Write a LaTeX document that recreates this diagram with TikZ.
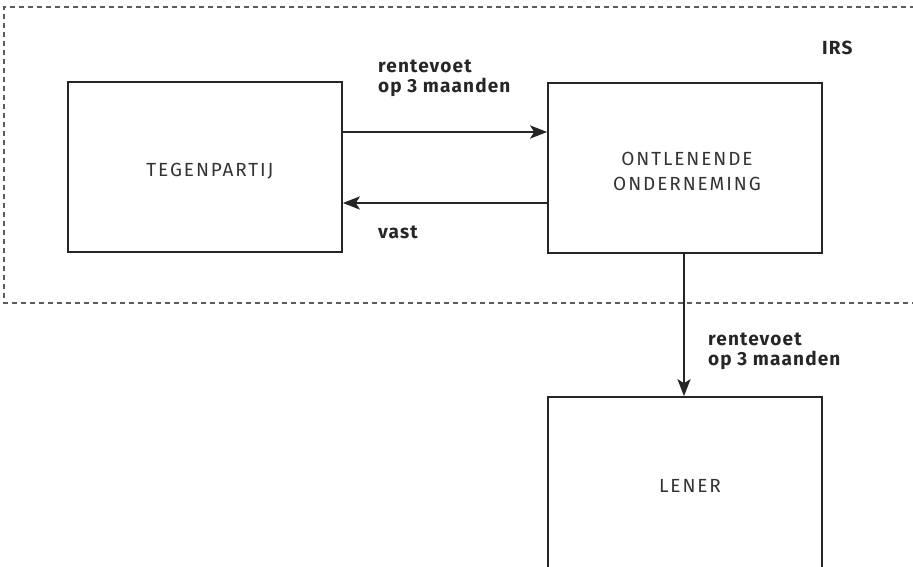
\documentclass[tikz,border=0pt]{standalone}
\usepackage{fontspec}
\setmainfont{Fira Sans}
\newfontfamily\lblfont[LetterSpace=10]{Fira Sans}
\newfontfamily\boldlbl[LetterSpace=6]{Fira Sans}[BoldFont={Fira Sans Bold}]
\usetikzlibrary{arrows.meta}
\definecolor{ink}{HTML}{262626}
\definecolor{boxtext}{HTML}{333333}
\begin{document}
\begin{tikzpicture}[x=1pt,y=-1pt,
  party/.style={draw=ink,line width=1.6pt,minimum width=274pt,minimum height=170pt,inner sep=0pt},
  partytext/.style={font=\lblfont\fontsize{19}{25}\selectfont,text=boxtext,align=center,inner sep=0pt},
  flow/.style={draw=ink,line width=2.6pt,-{Stealth[length=17pt,width=13pt,inset=4pt]}},
  flowlbl/.style={font=\boldlbl\bfseries\fontsize{19}{20}\selectfont,text=ink,align=left,inner sep=0pt},
  region/.style={draw=ink!75,line width=1.2pt,dash pattern=on 5pt off 4pt}]
\useasboundingbox (0,0) rectangle (913,567);
\draw[region] (960,7) -- (4,7) -- (4,303) -- (960,303);
\node[party] (teg) at (205,167) {};
\node[partytext,anchor=base] (tegtxt) at (210,176.5) {TEGENPARTIJ};
\node[party] (ont) at (685,168) {};
\node[partytext,anchor=base] (onttxt) at (687,190) {ONTLENENDE\\ONDERNEMING};
\node[party,minimum height=190pt] (len) at (685,492) {};
\node[partytext,anchor=base] (lentxt) at (690,492.5) {LENER};
\node[flowlbl,anchor=base west] (irs) at (822,55) {IRS};
\node[flowlbl,anchor=base west] (l1) at (378,93) {rentevoet\\op 3 maanden};
\node[flowlbl,anchor=base west] (l2) at (378,238) {vast};
\node[flowlbl,anchor=base west] (l3) at (708,365) {rentevoet\\op 3 maanden};
\draw[flow] ([yshift=35pt]teg.east) -- ([yshift=36pt]ont.west);
\draw[flow] ([yshift=-35pt]ont.west) -- ([yshift=-36pt]teg.east);
\draw[flow] ([xshift=-1pt]ont.south) -- ([xshift=-1pt]ont.south |- len.north);
\end{tikzpicture}
\end{document}
